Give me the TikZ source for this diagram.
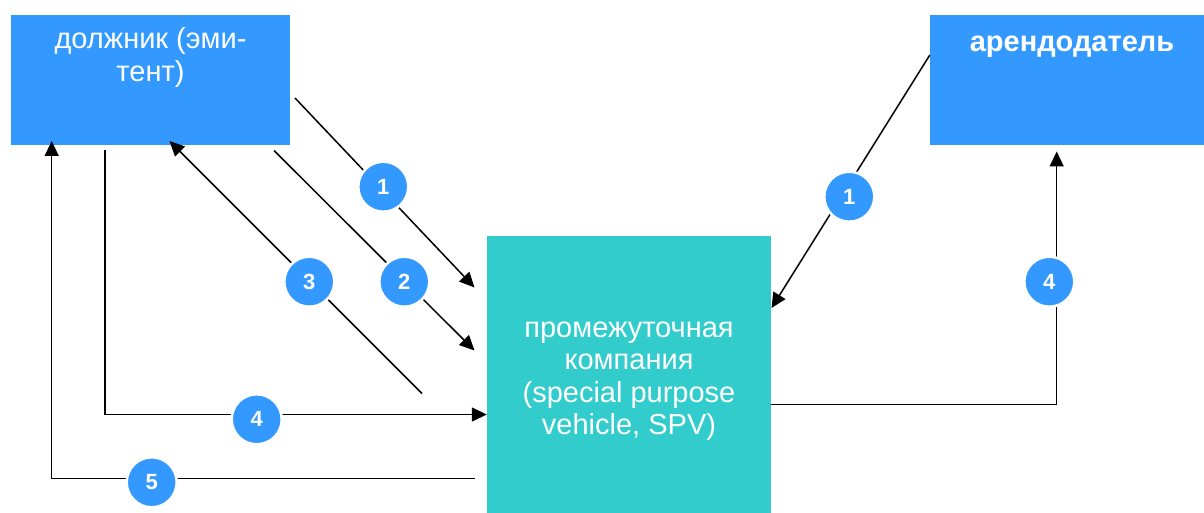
\documentclass[tikz,border=0pt]{standalone}
\usepackage{fontspec}
\setmainfont{Liberation Sans}
\usetikzlibrary{arrows.meta}
\definecolor{partyblue}{HTML}{3399FF}
\definecolor{spvteal}{HTML}{33CCCC}
\tikzset{
  party/.style={rectangle, fill=partyblue, draw=none, inner sep=0pt},
  spvbox/.style={rectangle, fill=spvteal, draw=none, inner sep=0pt},
  boxtext/.style={text=white, align=center, inner sep=0pt,
    font=\fontsize{29}{32.5}\selectfont},
  flow/.style={line width=1.5pt, -{Triangle[length=15pt,width=14pt]}},
  stepnum/.style={circle, fill=partyblue, draw=white, line width=2.5pt,
    minimum size=50pt, inner sep=0pt, text=white,
    font=\fontsize{22}{22}\selectfont\bfseries},
}
\begin{document}
\begin{tikzpicture}[x=1pt, y=-1pt]
\useasboundingbox (0,0) rectangle (1204,513);

% parties
\node[party, minimum width=279pt, minimum height=130pt] (deb) at (150.5,80) {};
\node[party, minimum width=274pt, minimum height=130pt] (les) at (1067,80) {};
\node[spvbox, minimum width=284pt, minimum height=280pt] (spv) at (629,376) {};

\node[boxtext, anchor=north] (debtxt) at (150.5,27.5)
  {должник (эми-\\тент)};
\node[boxtext, anchor=base, font=\fontsize{29}{32.5}\selectfont\bfseries]
  (lestxt) at (1072,51.5) {арендодатель};
\node[boxtext] (spvtxt) at (629,381)
  {промежуточная\\компания\\(special purpose\\vehicle, SPV)};

% connector end points
\coordinate (a1s) at (295,98);
\coordinate (a1e) at (474.5,287.5);
\coordinate (a2s) at (274,150.5);
\coordinate (a2e) at (474.5,350.5);
\coordinate (a3s) at (422,393.5);
\coordinate (a3e) at (169.5,141);
\coordinate (a4s) at (105,150.5);
\coordinate (a4c) at (105,414.5);
\coordinate (a4e) at (spv.west |- a4c);
\coordinate (a5s) at (475,478.5);
\coordinate (a5c) at (51.7,478.5);
\coordinate (a5e) at (51.7,141);
\coordinate (b1s) at (les.west |- 0,55);
\coordinate (b1e) at (771.5,308);
\coordinate (b4s) at (spv.east |- 0,404.5);
\coordinate (b4c) at (1056.7,404.5);
\coordinate (b4e) at (1056.7,151.5);

% flows
\draw[flow] (a1s) -- (a1e);
\draw[flow] (a2s) -- (a2e);
\draw[flow] (a3s) -- (a3e);
\draw[flow] (a4s) -- (a4c) -- (a4e);
\draw[flow] (a5s) -- (a5c) -- (a5e);
\draw[flow] (b1s) -- (b1e);
\draw[flow] (b4s) -- (b4c) -- (b4e);

% step numbers
\node[stepnum] (n1l) at (383.3,186.7) {1};
\node[stepnum] (n2) at (404.3,281.7) {2};
\node[stepnum] (n3) at (309.3,281.7) {3};
\node[stepnum] (n4l) at (256.7,419.3) {4};
\node[stepnum] (n5) at (151.7,482.3) {5};
\node[stepnum] (n1r) at (849.3,196.7) {1};
\node[stepnum] (n4r) at (1049.3,281.7) {4};
\end{tikzpicture}
\end{document}
